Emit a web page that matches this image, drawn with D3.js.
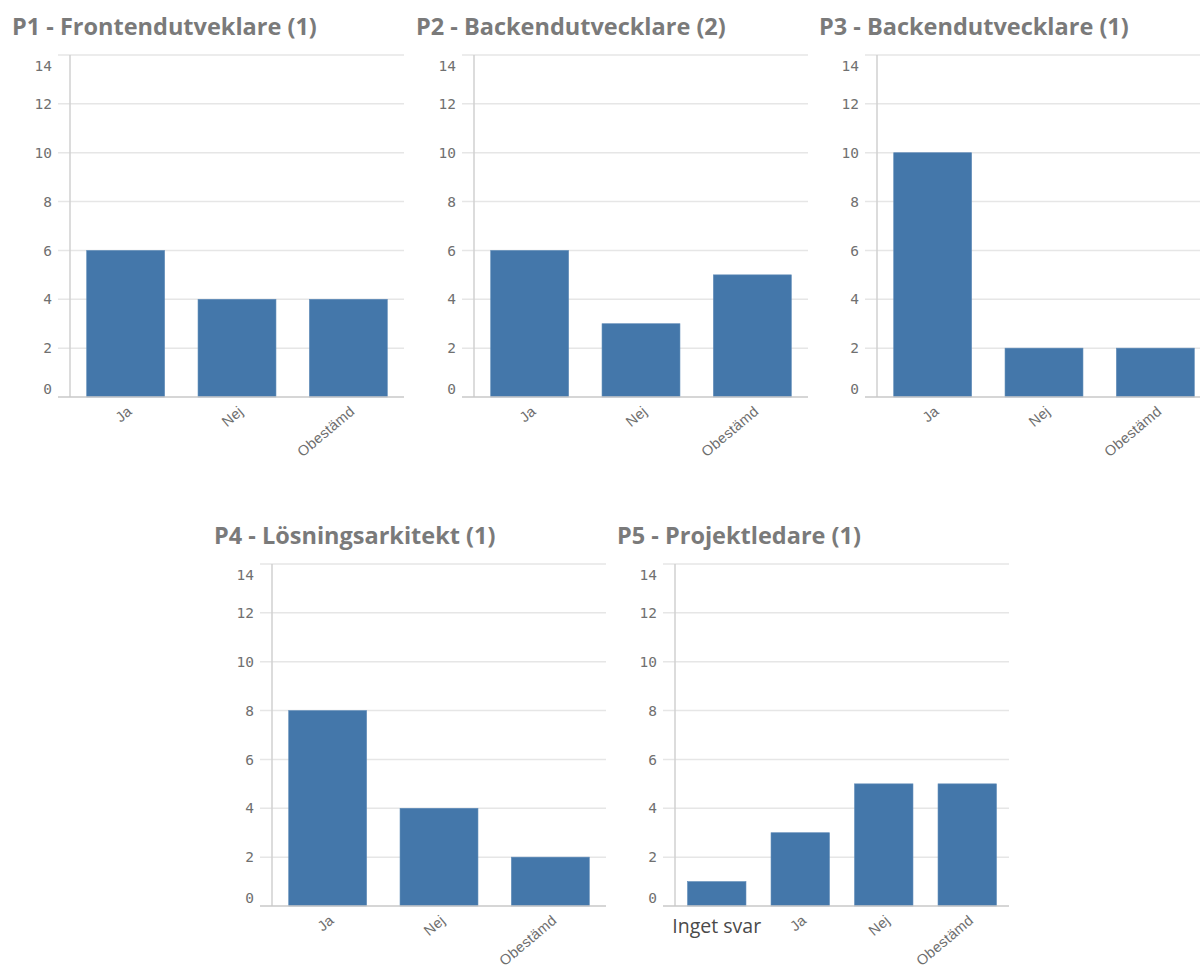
<!DOCTYPE html>
<html>
<head>
<meta charset="utf-8">
<script src="https://cdn.jsdelivr.net/npm/d3@7"></script>
<style>
  body { margin: 0; background: #fff; }
</style>
</head>
<body>
<div id="plot"></div>
<script>
//Chart data
const titles = [
    "P1 - Frontendutveklare (1)",
    "P2 - Backendutvecklare (2)",
    "P3 - Backendutvecklare (1)",
    "P4 - Lösningsarkitekt (1)",
    "P5 - Projektledare (1)"
];
const answers = ["Ja", "Nej", "Obestämd"];
const answersP5 = ["Inget svar", "Ja", "Nej", "Obestämd"];
const p1Values = [6, 4, 4];
const p2Values = [6, 3, 5];
const p3Values = [10, 2, 2];
const p4Values = [8, 4, 2];
const p5Values = [1, 3, 5, 5];
const yTicks = [0, 2, 4, 6, 8, 10, 12, 14];
//Labels that Qlik prints flat instead of rotated
const flatLabels = ["Inget svar"];

const w = 1200;
const h = 970;
const svg = d3.select("#plot")
    .append("svg")
    .attr("width", w)
    .attr("height", h)
    .style("font-family", "'Liberation Sans', Arial, sans-serif")

//Panel placement (title left edge, top of the plot area)
const panels = [
    { title: titles[0], cats: answers, vals: p1Values, left: 12, top: 55 },
    { title: titles[1], cats: answers, vals: p2Values, left: 416, top: 55 },
    { title: titles[2], cats: answers, vals: p3Values, left: 819, top: 55 },
    { title: titles[3], cats: answers, vals: p4Values, left: 214, top: 564 },
    { title: titles[4], cats: answersP5, vals: p5Values, left: 617, top: 564 }
];

const plotW = 334;
const plotH = 342;

const drawPanel = (p) => {
    const axisX = p.left + 58;
    const g = svg.append("g")
        .attr("transform", "translate(" + axisX + "," + p.top + ")");

    //Title
    svg.append("text")
        .attr("x", p.left)
        .attr("y", p.top - 20)
        .attr("font-family", "'Open Sans', sans-serif")
        .attr("font-weight", "bold")
        .attr("font-size", 23.5)
        .attr("fill", "#7a7a7a")
        .text(p.title);

    const y = d3.scaleLinear().domain([0, 14]).range([plotH, 0]);
    const x = d3.scaleBand()
        .domain(p.cats)
        .range([0, plotW])
        .paddingInner(0.3)
        .paddingOuter(0.15);

    //Gridlines
    g.selectAll(".grid")
        .data(yTicks.filter(d => d > 0))
        .join("line")
        .attr("x1", -12)
        .attr("x2", plotW)
        .attr("y1", d => y(d))
        .attr("y2", d => y(d))
        .attr("stroke", "#e6e6e6")
        .attr("stroke-width", 1.5);

    //Y tick labels: top one sits below its line, bottom one above
    g.selectAll(".ylab")
        .data(yTicks)
        .join("text")
        .attr("x", -18)
        .attr("y", d => y(d) + (d === 14 ? 11 : d === 0 ? -8 : 0))
        .attr("dy", "0.35em")
        .attr("text-anchor", "end")
        .attr("font-family", "'DejaVu Sans Mono', monospace")
        .attr("font-size", 14.5)
        .attr("fill", "#707070")
        .text(d => d);

    //Bars
    g.selectAll("rect")
        .data(p.vals)
        .join("rect")
        .attr("x", (d, i) => x(p.cats[i]))
        .attr("y", d => y(d))
        .attr("width", x.bandwidth())
        .attr("height", d => plotH - y(d))
        .attr("fill", "#4477aa")
        .attr("stroke", "#5f8bb8")
        .attr("stroke-width", 0.6);

    //Axis lines
    g.append("line")
        .attr("x1", 0).attr("x2", 0)
        .attr("y1", 0).attr("y2", plotH)
        .attr("stroke", "#d0d0d0")
        .attr("stroke-width", 1.5);
    g.append("line")
        .attr("x1", -12).attr("x2", plotW)
        .attr("y1", plotH).attr("y2", plotH)
        .attr("stroke", "#c8c8c8")
        .attr("stroke-width", 1.5);

    //X labels
    p.cats.forEach(c => {
        const cx = x(c) + x.bandwidth() / 2;
        if (flatLabels.includes(c)) {
            g.append("text")
                .attr("x", cx)
                .attr("y", plotH + 27)
                .attr("text-anchor", "middle")
                .attr("font-family", "'Open Sans', sans-serif")
                .attr("font-size", 19.5)
                .attr("fill", "#4a4a4a")
                .text(c);
        } else {
            g.append("text")
                .attr("transform", "translate(" + (cx + 4) + "," + (plotH + 12) + ") rotate(-40)")
                .attr("text-anchor", "end")
                .attr("dy", "0.35em")
                .attr("font-size", 14.5)
                .attr("letter-spacing", 0.3)
                .attr("fill", "#6e6e6e")
                .text(c);
        }
    });
}

panels.forEach(drawPanel);
</script>
</body>
</html>
